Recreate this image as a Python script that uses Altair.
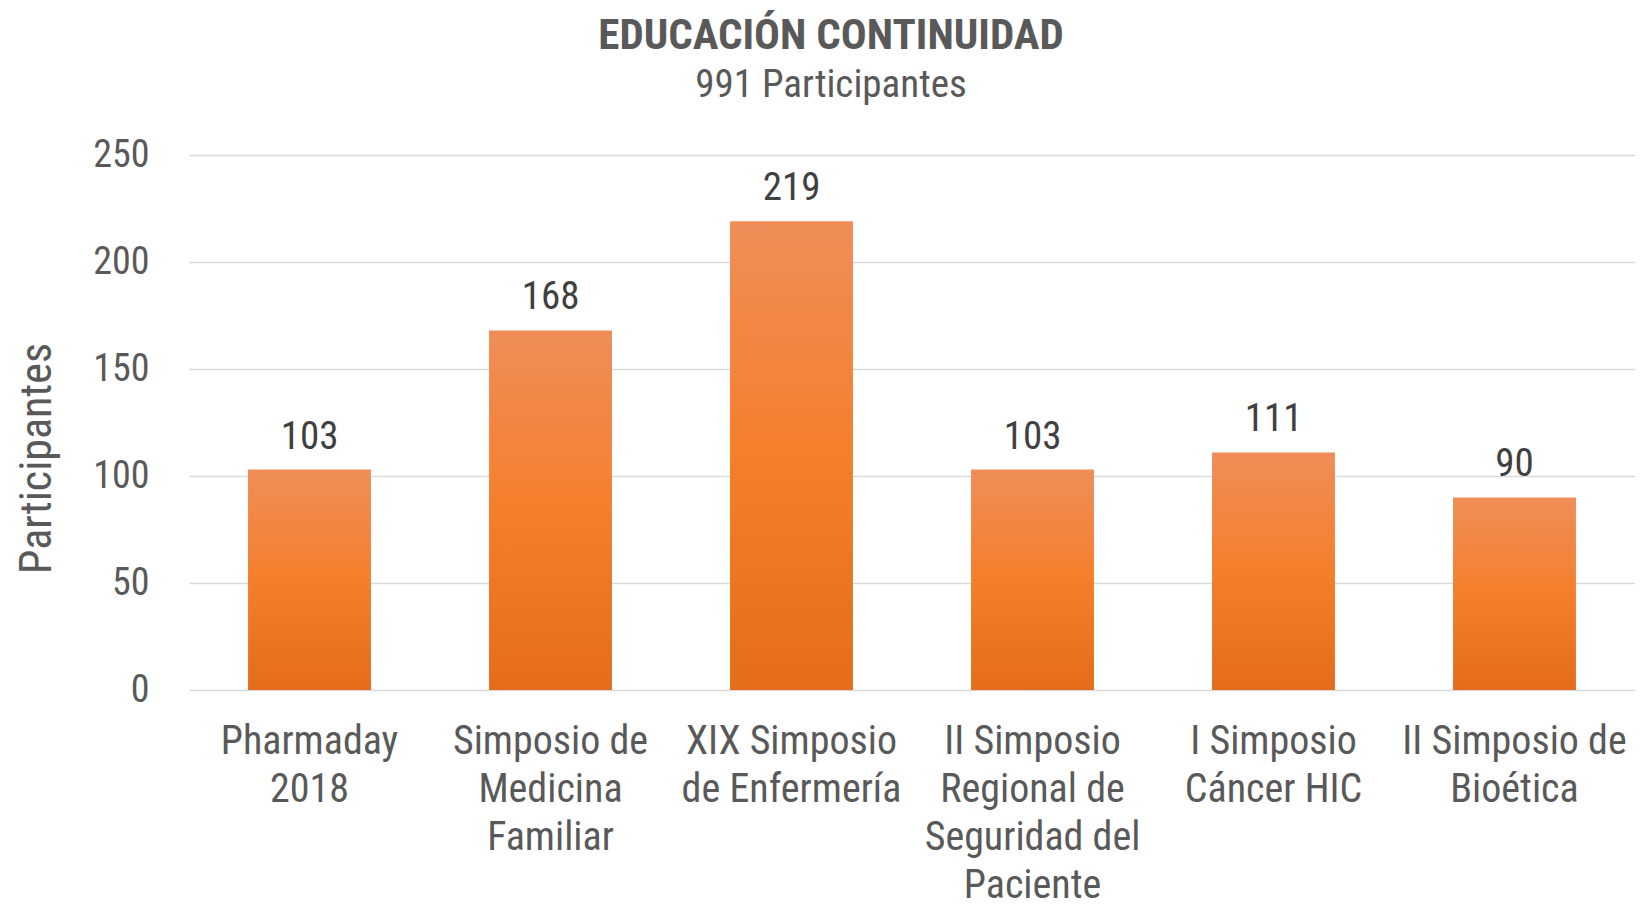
import altair as alt
import pandas as pd

categories = ["Pharmaday|2018", "Simposio de|Medicina|Familiar", "XIX Simposio|de Enfermería",
              "II Simposio|Regional de|Seguridad del|Paciente", "I Simposio|Cáncer HIC", "II Simposio de|Bioética"]
values = [103, 168, 219, 103, 111, 90]
y_ticks = [0, 50, 100, 150, 200, 250]

df = pd.DataFrame({"evento": categories, "participantes": values})

FONT = "Liberation Sans Narrow, Arial Narrow, Roboto Condensed, Roboto, sans-serif"
TXT = "#595959"

grad = alt.Gradient(
    gradient="linear",
    stops=[alt.GradientStop(color="#F08D58", offset=0),
           alt.GradientStop(color="#F47F2B", offset=0.5),
           alt.GradientStop(color="#E46C1A", offset=1)],
    x1=0, x2=0, y1=0, y2=1,
)

x_enc = alt.X("evento:N", sort=categories, title=None,
              scale=alt.Scale(paddingInner=0.49, paddingOuter=0.245),
              axis=alt.Axis(labelExpr="split(datum.label, '|')", labelAngle=0,
                            labelFont=FONT, labelFontSize=40, labelColor=TXT, labelLimit=0,
                            labelLineHeight=48, labelPadding=31, labelBaseline="top",
                            ticks=False, domain=False, grid=False))
y_enc = alt.Y("participantes:Q", title="Participantes",
              scale=alt.Scale(domain=[0, 250], nice=False),
              axis=alt.Axis(values=y_ticks, labelFont=FONT, labelFontSize=38, labelColor=TXT,
                            labelPadding=40, ticks=False, domain=False, labelLimit=0,
                            gridColor="#D9D9D9", gridWidth=1.6,
                            titleFont=FONT, titleFontSize=44, titleColor=TXT, titleFontWeight="normal",
                            titleAngle=270, titleX=-152, titleY=303, titleAlign="center",
                            titleBaseline="middle", titleLimit=0))

bars = alt.Chart(df).mark_bar(color=grad).encode(x=x_enc, y=y_enc)
labels = alt.Chart(df).mark_text(font=FONT, fontSize=39, color="#404040", dy=-21,
                                 baseline="alphabetic").encode(
    x=alt.X("evento:N", sort=categories), y="participantes:Q", text="participantes:Q")

chart = alt.layer(bars, labels).properties(
    width=1446, height=535,
    autosize=alt.AutoSizeParams(type="none"),
    padding={"left": 181, "top": 147, "right": 0, "bottom": 215},
    title=alt.TitleParams(
        "EDUCACIÓN CONTINUIDAD", subtitle="991 Participantes",
        anchor="middle", frame="bounds", dx=6, offset=31,
        font=FONT, fontSize=43, fontWeight="bold", color=TXT,
        subtitleFont=FONT, subtitleFontSize=39, subtitleColor=TXT, subtitlePadding=8),
).configure_view(stroke=None)

chart.save("out.html", embed_options={"renderer": "svg", "actions": False})
